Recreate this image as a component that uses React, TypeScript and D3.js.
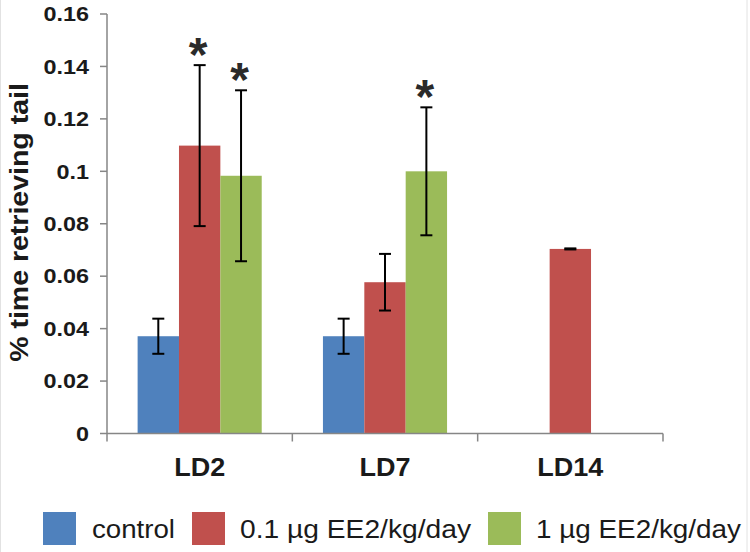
import React from "react";
import * as d3 from "d3";

const categories = ["LD2", "LD7", "LD14"];
const seriesNames = ["control", "0.1 µg EE2/kg/day", "1 µg EE2/kg/day"];
const seriesColors = ["#4f81bd", "#c0504d", "#9bbb59"];
const controlValues = [0.0371, 0.0371, null];
const lowDoseValues = [0.1098, 0.0577, 0.0704];
const highDoseValues = [0.0983, 0.1000, null];
const controlErrors = [0.0067, 0.0067, null];
const lowDoseErrors = [0.0307, 0.0108, 0.0002];
const highDoseErrors = [0.0326, 0.0244, null];
const controlSignificant = [false, false, false];
const lowDoseSignificant = [true, false, false];
const highDoseSignificant = [true, true, false];
const yTicks = [0, 0.02, 0.04, 0.06, 0.08, 0.1, 0.12, 0.14, 0.16];
const yTickLabels = ["0", "0.02", "0.04", "0.06", "0.08", "0.1", "0.12", "0.14", "0.16"];
const yLabel = "% time retrieving tail";

const W = 750;
const H = 552;
const AXIS = "#868686";
const FONT = "'Liberation Sans', Arial, sans-serif";

export default function App() {
  const values = [controlValues, lowDoseValues, highDoseValues];
  const errors = [controlErrors, lowDoseErrors, highDoseErrors];
  const sig = [controlSignificant, lowDoseSignificant, highDoseSignificant];

  const x = d3.scaleBand<string>().domain(categories).range([107, 663]).padding(0);
  const xs = d3
    .scaleBand<string>()
    .domain(seriesNames)
    .range([0, x.bandwidth()])
    .paddingInner(0)
    .paddingOuter(0.74);
  const y = d3.scaleLinear().domain([0, 0.16]).range([433.5, 14]);

  const bars: any[] = [];
  seriesNames.forEach((s, si) => {
    categories.forEach((c, ci) => {
      const v = values[si][ci];
      if (v == null) return;
      bars.push({ s, si, c, ci, v, e: errors[si][ci], sig: sig[si][ci] });
    });
  });

  const legendItems = [
    { sq: 43, tx: 92, w: 83 },
    { sq: 192, tx: 240, w: 231 },
    { sq: 488, tx: 536, w: 205 },
  ];

  return (
    <svg
      width={W}
      height={H}
      style={{ position: "absolute", left: 0, top: 0, background: "#fff" }}
    >
      <rect x={0.5} y={-10} width={746.5} height={H + 20} fill="#fff" stroke="#e2e2e2" />

      {/* bars */}
      {bars.map((b) => {
        const bx = (x(b.c) as number) + (xs(b.s) as number);
        return (
          <rect
            key={`bar-${b.si}-${b.ci}`}
            x={bx}
            y={y(b.v)}
            width={xs.bandwidth()}
            height={y(0) - y(b.v)}
            fill={seriesColors[b.si]}
          />
        );
      })}

      {/* axes */}
      <line x1={107} x2={107} y1={y(0.16)} y2={y(0)} stroke={AXIS} strokeWidth={1.5} />
      <line x1={107} x2={663} y1={y(0)} y2={y(0)} stroke={AXIS} strokeWidth={1.5} />
      {yTicks.map((t, i) => (
        <g key={`yt-${i}`}>
          <line x1={100} x2={107} y1={y(t)} y2={y(t)} stroke={AXIS} strokeWidth={1.5} />
          <text
            transform={`translate(89,${y(t) + 7.2}) scale(1.17,1)`}
            textAnchor="end"
            fontFamily={FONT}
            fontWeight="bold"
            fontSize={20}
            fill="#1a1a1a"
          >
            {yTickLabels[i]}
          </text>
        </g>
      ))}
      {categories.concat(["end"]).map((c, i) => {
        const px = i < categories.length ? (x(c) as number) : 663;
        return (
          <line key={`xt-${i}`} x1={px} x2={px} y1={y(0)} y2={y(0) + 8} stroke={AXIS} strokeWidth={1.5} />
        );
      })}
      {categories.map((c) => (
        <text
          key={`xl-${c}`}
          transform={`translate(${(x(c) as number) + x.bandwidth() / 2},476) scale(1.08,1)`}
          textAnchor="middle"
          fontFamily={FONT}
          fontWeight="bold"
          fontSize={25}
          fill="#1a1a1a"
        >
          {c}
        </text>
      ))}

      {/* y label */}
      <text
        transform={`translate(28,222.5) rotate(-90) scale(1.14,1)`}
        textAnchor="middle"
        fontFamily={FONT}
        fontWeight="bold"
        fontSize={25}
        fill="#1a1a1a"
      >
        {yLabel}
      </text>

      {/* error bars and stars */}
      {bars.map((b) => {
        const cx = (x(b.c) as number) + (xs(b.s) as number) + xs.bandwidth() / 2;
        const top = y(b.v + b.e);
        const bot = y(b.v - b.e);
        return (
          <g key={`err-${b.si}-${b.ci}`}>
            <line x1={cx} x2={cx} y1={top} y2={bot} stroke="#000" strokeWidth={2} />
            <line x1={cx - 6} x2={cx + 6} y1={top} y2={top} stroke="#000" strokeWidth={2} />
            <line x1={cx - 6} x2={cx + 6} y1={bot} y2={bot} stroke="#000" strokeWidth={2} />
            {b.sig && (
              <text
                x={cx - 1.5}
                y={top - 19.5 + 25}
                textAnchor="middle"
                fontFamily={FONT}
                fontWeight="bold"
                fontSize={48}
                fill="#2a2a2a"
              >
                *
              </text>
            )}
          </g>
        );
      })}

      {/* legend */}
      {seriesNames.map((s, i) => (
        <g key={`lg-${i}`}>
          <rect x={legendItems[i].sq} y={512} width={33} height={33} fill={seriesColors[i]} />
          <text
            x={legendItems[i].tx}
            y={538}
            textLength={legendItems[i].w}
            lengthAdjust="spacingAndGlyphs"
            fontFamily={FONT}
            fontSize={25}
            fill="#1a1a1a"
          >
            {s}
          </text>
        </g>
      ))}
    </svg>
  );
}
